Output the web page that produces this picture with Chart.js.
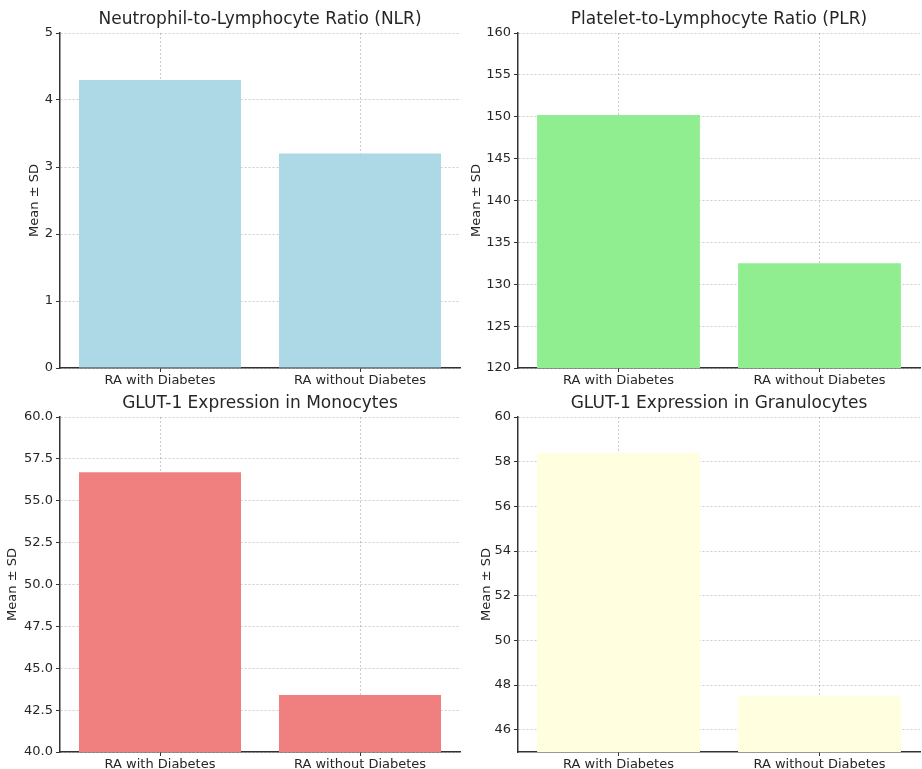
<!DOCTYPE html>
<html>
<head>
<meta charset="utf-8">
<script src="https://cdn.jsdelivr.net/npm/chart.js@4.4.1/dist/chart.umd.min.js"></script>
<style>
  html, body { margin: 0; padding: 0; background: #fff; }
  .panel { position: absolute; }
</style>
</head>
<body>
<div class="panel" style="left:0;top:0"><canvas id="nlr" width="461" height="390"></canvas></div>
<div class="panel" style="left:461px;top:0"><canvas id="plr" width="461" height="390"></canvas></div>
<div class="panel" style="left:0;top:390px"><canvas id="mono" width="461" height="379"></canvas></div>
<div class="panel" style="left:461px;top:390px"><canvas id="gran" width="461" height="379"></canvas></div>
<script>
const categories = ['RA with Diabetes', 'RA without Diabetes'];

const nlrValues = [4.3, 3.2];
const plrValues = [150.2, 132.5];
const monoValues = [56.7, 43.4];
const granValues = [58.4, 47.5];

const nlrTicks = [0, 1, 2, 3, 4, 5];
const plrTicks = [120, 125, 130, 135, 140, 145, 150, 155, 160];
const monoTicks = [40, 42.5, 45, 47.5, 50, 52.5, 55, 57.5, 60];
const granTicks = [46, 48, 50, 52, 54, 56, 58, 60];

const FONT = 'DejaVu Sans';
const TEXT = '#262626';
const AXIS = '#333333';
const GRID = 'rgba(0,0,0,0.2)';

function makeChart(id, title, values, color, yMin, yMax, yTicks, fmt, lay) {
    const ctx = document.getElementById(id).getContext('2d');
    return new Chart(ctx, {
        type: 'bar',
        data: {
            labels: categories,
            datasets: [{
                data: values,
                backgroundColor: color,
                borderWidth: 0,
                barPercentage: 0.81,
                categoryPercentage: 1.0
            }]
        },
        options: {
            responsive: false,
            animation: false,
            layout: { padding: { left: 0, right: lay.padRight, top: 0, bottom: 0 } },
            plugins: {
                legend: { display: false },
                tooltip: { enabled: false },
                title: {
                    display: true,
                    text: title,
                    fullSize: false,
                    color: TEXT,
                    font: { family: FONT, size: 17, weight: 'normal' },
                    padding: { top: lay.titleTop, bottom: lay.titleBottom }
                }
            },
            scales: {
                x: {
                    grid: {
                        offset: false,
                        color: GRID,
                        drawTicks: true,
                        tickLength: 4,
                        tickColor: AXIS,
                        tickWidth: 1
                    },
                    border: { color: AXIS, width: 1.5, dash: [2, 2] },
                    ticks: {
                        color: TEXT,
                        padding: 1,
                        font: { family: FONT, size: 13 }
                    },
                    afterFit: s => { s.height = lay.xHeight; }
                },
                y: {
                    min: yMin,
                    max: yMax,
                    grid: {
                        color: GRID,
                        drawTicks: true,
                        tickLength: 4,
                        tickColor: AXIS,
                        tickWidth: 1
                    },
                    border: { color: AXIS, width: 1.5, dash: [2, 2] },
                    ticks: {
                        color: TEXT,
                        padding: 3,
                        font: { family: FONT, size: 13 },
                        callback: v => fmt(v)
                    },
                    afterBuildTicks: s => { s.ticks = yTicks.map(v => ({ value: v })); },
                    title: {
                        display: true,
                        text: 'Mean ± SD',
                        color: TEXT,
                        font: { family: FONT, size: 13 },
                        padding: { top: lay.yTitlePad, bottom: 0 }
                    },
                    afterFit: s => { s.width = lay.yWidth; }
                }
            }
        }
    });
}

const intFmt = v => String(v);
const oneDec = v => v.toFixed(1);

makeChart('nlr', 'Neutrophil-to-Lymphocyte Ratio (NLR)', nlrValues, '#ADD8E6', 0, 5, nlrTicks, intFmt,
    { padRight: 1, titleTop: 9.8, titleBottom: 2.8, xHeight: 22, yWidth: 60, yTitlePad: 27 });
makeChart('plr', 'Platelet-to-Lymphocyte Ratio (PLR)', plrValues, '#90EE90', 120, 160, plrTicks, intFmt,
    { padRight: 2, titleTop: 9.8, titleBottom: 2.8, xHeight: 22, yWidth: 57, yTitlePad: 8 });
makeChart('mono', 'GLUT-1 Expression in Monocytes', monoValues, '#F08080', 40, 60, monoTicks, oneDec,
    { padRight: 1, titleTop: 3.3, titleBottom: 3.3, xHeight: 17, yWidth: 60, yTitlePad: 5 });
makeChart('gran', 'GLUT-1 Expression in Granulocytes', granValues, '#FFFFE0', 45, 60, granTicks, intFmt,
    { padRight: 2, titleTop: 3.3, titleBottom: 3.3, xHeight: 17, yWidth: 57, yTitlePad: 18 });
</script>
</body>
</html>
